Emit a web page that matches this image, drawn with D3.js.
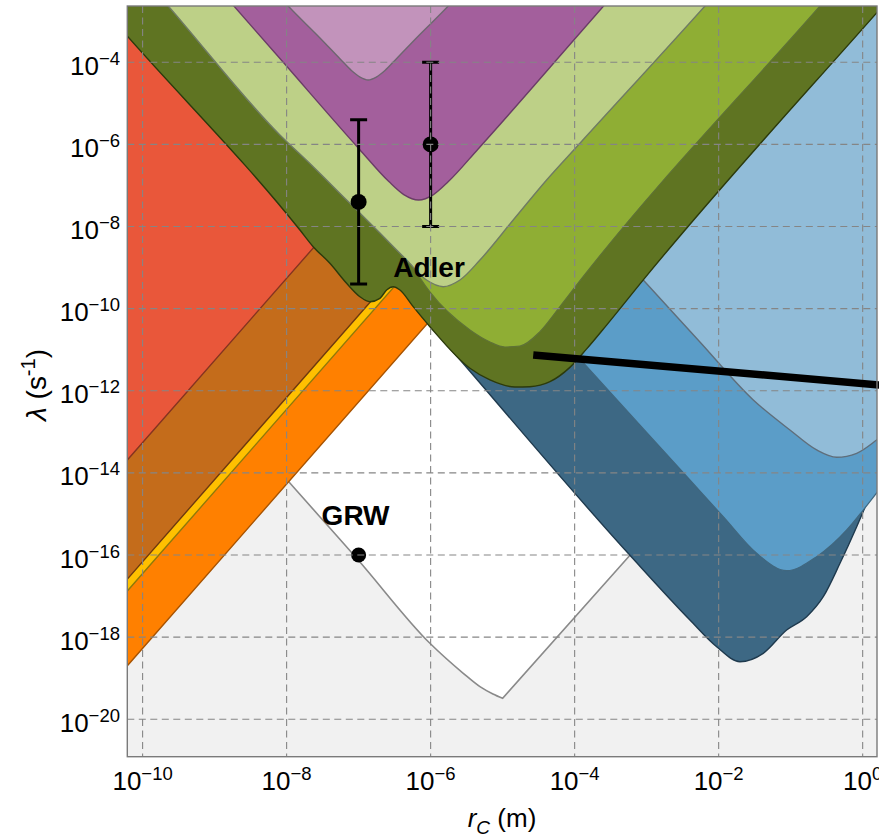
<!DOCTYPE html>
<html><head><meta charset="utf-8">
<script src="https://cdn.jsdelivr.net/npm/d3@7"></script>
<style>
body{margin:0;background:#fff}
svg{display:block}
text{font-family:"Liberation Sans",Arial,Helvetica,sans-serif;fill:#000}
</style>
</head><body>
<svg id="c" width="879" height="839"></svg>
<script>
// ---------- data: points are [log10 rC (m), log10 lambda (s^-1)] ----------
const xTickExps = [-10, -8, -6, -4, -2, 0];
const yTickExps = [-20, -18, -16, -14, -12, -10, -8, -6, -4];

// theoretical lower bound (gray line) : white region lies above it
const grayBoundLeft  = [[-8.8,-12.56],[-7.964,-14.229],[-7.006,-16.121],[-6.010,-18.150],[-5.547,-18.881],[-5.315,-19.207],[-5.135,-19.385],[-5.0,-19.49]];
const grayBoundRight = [[-5.0,-19.49],[-3.232,-16.007],[-2.260,-14.093],[0.6,-8.46]];

// blue exclusion regions (lower boundaries)
const darkBlueLower  = [[-8.0,-6.42],[-6.010,-10.398],[-3.232,-16.007],[-2.399,-17.583],[-2.028,-18.233],[-1.704,-18.598],[-1.381,-18.394],[-1.056,-17.826],[-0.778,-17.502],[-0.547,-17.015],[-0.315,-16.202],[-0.083,-15.310],[0.046,-14.782],[0.226,-14.051],[0.6,-12.5]];
const medBlueLower   = [[-4.6,-9.92],[-4.019,-11.048],[-2.399,-14.173],[-1.936,-15.067],[-1.472,-15.958],[-1.056,-16.382],[-0.639,-16.041],[-0.222,-15.391],[0.008,-14.904],[0.226,-14.417],[0.6,-13.6]];
const lightBlueLower = [[-3.926,-7.646],[-3.047,-9.302],[-2.260,-10.812],[-1.519,-12.225],[-1.010,-12.955],[-0.639,-13.442],[-0.361,-13.620],[-0.083,-13.523],[0.194,-13.199],[0.6,-12.6]];

// straight diagonal bands (lower-right boundaries)
const orangeLower = [[-10.6,-19.472],[-2.0,-2.272]];
const yellowLower = [[-10.6,-17.652],[-2.8,-2.052]];
const brownLower  = [[-10.6,-17.362],[-2.8,-1.762]];
const redLower    = [[-10.6,-14.462],[-4.0,-1.262]];

// green / purple regions (lower boundaries)
const darkGreenLower = [[-10.9,-1.99],[-10.214,-3.359],[-7.815,-8.084],[-7.631,-8.491],[-7.399,-8.895],[-7.167,-9.382],[-6.982,-9.709],[-6.843,-9.831],[-6.704,-9.748],[-6.611,-9.546],[-6.519,-9.465],[-6.426,-9.546],[-6.242,-9.952],[-6.010,-10.439],[-5.454,-11.452],[-5.176,-11.737],[-4.829,-11.908],[-4.621,-11.901],[-4.343,-11.779],[-4.066,-11.43],[-3.833,-10.98],[-3.556,-10.40],[-3.024,-9.25],[0.208,-2.768],[0.6,-1.99]];
const greenLower = [[-6.704,-7.60],[-6.288,-8.864],[-6.010,-9.594],[-5.454,-10.520],[-5.176,-10.812],[-4.968,-10.934],[-4.760,-10.910],[-4.482,-10.56],[-4.204,-9.95],[-3.926,-9.32],[-0.594,-2.629],[-0.2,-1.84]];
const lightGreenLower = [[-9.899,-2.117],[-9.644,-2.629],[-8.093,-5.771],[-7.631,-6.543],[-7.167,-7.354],[-6.704,-8.158],[-6.333,-8.816],[-6.056,-9.303],[-5.825,-9.465],[-5.593,-9.303],[-5.315,-8.816],[-4.853,-7.841],[-4.389,-6.867],[-3.926,-5.973],[-2.19,-2.629],[-1.843,-1.947]];
const purpleLower = [[-8.9,-2.294],[-8.047,-4.0],[-6.9925,-6.11],[-6.58,-6.905],[-6.373,-7.221],[-6.1665,-7.354],[-5.96,-7.221],[-5.7535,-6.905],[-5.34,-6.11],[-3.926,-3.286],[-3.3,-2.034]];
const lightPurpleLower = [[-8.3,-2.0],[-7.978,-2.629],[-7.54,-3.40],[-7.25,-3.93],[-7.1,-4.20],[-6.98,-4.36],[-6.867,-4.431],[-6.754,-4.36],[-6.634,-4.20],[-6.484,-3.93],[-6.194,-3.40],[-5.756,-2.629],[-5.434,-2.0]];

// Adler estimates (error bars) and GRW point
const adlerR      = [-7, -6];
const adlerCenter = [-7.4, -6.0];
const adlerLow    = [-9.4, -8.0];
const adlerHigh   = [-5.4, -4.0];
const grwPoint    = [-7, -16];
// thick black bound line
const blackLine = [[-4.575,-11.129],[0.23,-11.86]];

// ---------- layout ----------
const plot = {left:127.3, right:877, top:6, bottom:756.7};
const xDomainExp = [-10.2125, 0.199];
const yDomainExp = [-20.912, -2.629];
const x = d3.scaleLog().domain(xDomainExp.map(e => 10**e)).range([plot.left, plot.right]);
const y = d3.scaleLog().domain(yDomainExp.map(e => 10**e)).range([plot.bottom, plot.top]);
const X = e => x(10**e), Y = e => y(10**e);

const svg = d3.select('#c');
svg.append('defs').append('clipPath').attr('id','clip')
  .append('rect').attr('x',plot.left).attr('y',plot.top)
  .attr('width',plot.right-plot.left).attr('height',plot.bottom-plot.top);

const g = svg.append('g').attr('clip-path','url(#clip)');

g.append('rect').attr('x',plot.left).attr('y',plot.top)
  .attr('width',plot.right-plot.left).attr('height',plot.bottom-plot.top)
  .attr('fill','#f1f1f1');

const smooth = d3.line().x(d=>X(d[0])).y(d=>Y(d[1])).curve(d3.curveMonotoneX);
const straight = d3.line().x(d=>X(d[0])).y(d=>Y(d[1]));
const topY = Y(-1);
function closeTop(path, first, last){
  return path + `L${X(last[0])},${topY}L${X(first[0])},${topY}Z`;
}
function region(pts, fill, stroke, sw){
  g.append('path').attr('d', closeTop(smooth(pts), pts[0], pts[pts.length-1]))
    .attr('fill',fill).attr('stroke',stroke).attr('stroke-width',sw||1.2)
    .attr('stroke-linejoin','round');
}

// white allowed region above gray lower bound
{
  const d = smooth(grayBoundLeft) + straight(grayBoundRight).replace(/^M/,'L');
  g.append('path').attr('d', closeTop(d, grayBoundLeft[0], grayBoundRight[grayBoundRight.length-1]))
    .attr('fill','#ffffff').attr('stroke','#8a8a8a').attr('stroke-width',1.6);
}

region(darkBlueLower,  '#3d6884', '#1f3a4e', 1.4);
region(medBlueLower,   '#5b9dc8', '#40677f', 1.2);
region(lightBlueLower, '#91bcd8', '#5f6e7b', 1.4);

region(orangeLower, '#ff8000', '#a85300', 1.4);
region(yellowLower, '#ffc000', '#8f7a0a', 1.4);
region(brownLower,  '#c46c1b', '#6e3a0e', 1.4);
region(redLower,    '#e9573a', '#853420', 1.4);

region(darkGreenLower,   '#5f7422', '#2c3a0c', 1.4);
region(greenLower,       '#8fae34', '#5f7236', 1.2);
region(lightGreenLower,  '#bdd087', '#6f7b63', 1.4);
region(purpleLower,      '#a35f9c', '#6b3d67', 1.4);
region(lightPurpleLower, '#c293bb', '#6e6670', 1.4);

// Adler error bars and points
adlerR.forEach((r,i)=>{
  const cx = X(r);
  g.append('line').attr('x1',cx).attr('x2',cx).attr('y1',Y(adlerHigh[i])).attr('y2',Y(adlerLow[i]))
    .attr('stroke','#000').attr('stroke-width',3);
  [adlerHigh[i], adlerLow[i]].forEach(v=>{
    g.append('line').attr('x1',cx-8.5).attr('x2',cx+8.5).attr('y1',Y(v)).attr('y2',Y(v))
      .attr('stroke','#000').attr('stroke-width',3);
  });
  g.append('circle').attr('cx',cx).attr('cy',Y(adlerCenter[i])).attr('r',8).attr('fill','#000');
});
g.append('circle').attr('cx',X(grwPoint[0])).attr('cy',Y(grwPoint[1])).attr('r',7.5).attr('fill','#000');

// grid (drawn over the regions)
const grid = g.append('g').attr('stroke','#858585').attr('stroke-width',1.1).attr('stroke-dasharray','7,4.5');
xTickExps.forEach(e=>{
  grid.append('line').attr('x1',X(e)).attr('x2',X(e)).attr('y1',plot.top).attr('y2',plot.bottom);
});
yTickExps.forEach(e=>{
  grid.append('line').attr('x1',plot.left).attr('x2',plot.right).attr('y1',Y(e)).attr('y2',Y(e));
});

// thick black line
svg.append('line').attr('x1',X(blackLine[0][0])).attr('y1',Y(blackLine[0][1]))
  .attr('x2',X(blackLine[1][0])).attr('y2',Y(blackLine[1][1]))
  .attr('stroke','#000').attr('stroke-width',7.5);

// frame
svg.append('rect').attr('x',plot.left).attr('y',plot.top)
  .attr('width',plot.right-plot.left).attr('height',plot.bottom-plot.top)
  .attr('fill','none').attr('stroke','#7a7a7a').attr('stroke-width',1.4);

// annotations
svg.append('text').attr('x',X(-6.519)).attr('y',Y(-9.229)).attr('font-size',28).attr('font-weight','bold').text('Adler');
svg.append('text').attr('x',X(-7.514)).attr('y',Y(-15.27)).attr('font-size',28).attr('font-weight','bold').text('GRW');

// tick labels
xTickExps.forEach(e=>{
  const t = svg.append('text').attr('x',X(e)).attr('y',790).attr('text-anchor','middle').attr('font-size',26);
  t.append('tspan').text('10');
  t.append('tspan').attr('dy',-10).attr('font-size',18.5).text(e===0 ? '0' : '\u2212'+Math.abs(e));
});
yTickExps.forEach(e=>{
  const t = svg.append('text').attr('x',120).attr('y',Y(e)+12.5).attr('text-anchor','end').attr('font-size',26);
  t.append('tspan').text('10');
  t.append('tspan').attr('dy',-10).attr('font-size',18.5).text('\u2212'+Math.abs(e));
});

// axis titles
{
  const t = svg.append('text').attr('transform','translate(46,385) rotate(-90)')
    .attr('text-anchor','middle').attr('font-size',28);
  t.append('tspan').attr('font-style','italic').text('\u03bb');
  t.append('tspan').text(' (s');
  t.append('tspan').attr('dy',-11).attr('font-size',20).text('-1');
  t.append('tspan').attr('dy',11).text(')');
}
{
  const t = svg.append('text').attr('x',502).attr('y',827).attr('text-anchor','middle').attr('font-size',26);
  t.append('tspan').attr('font-style','italic').text('r');
  t.append('tspan').attr('dy',7).attr('font-size',19).attr('font-style','italic').text('C');
  t.append('tspan').attr('dy',-7).text(' (m)');
}
</script>
</body></html>
